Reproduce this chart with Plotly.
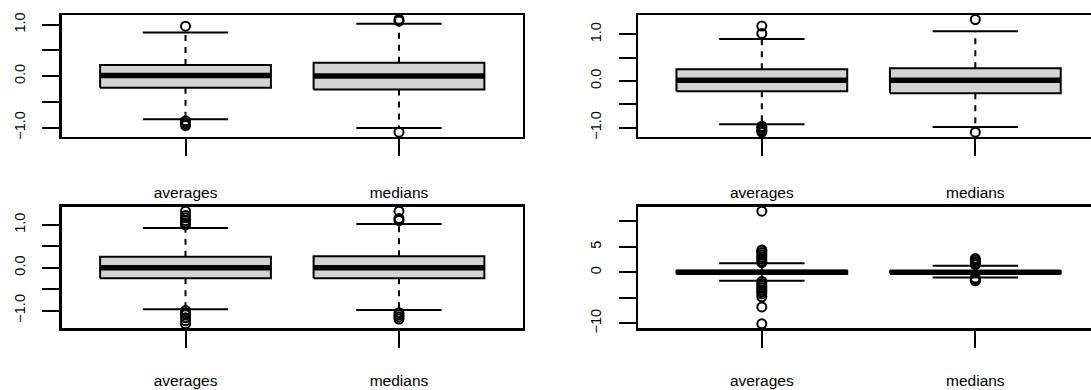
import plotly.graph_objects as go

# ---------------- data ----------------
categories = ["averages", "medians"]

# panel 1 (top-left)
p1_q1 = [-0.228, -0.26]
p1_median = [0.013, 0.0]
p1_q3 = [0.215, 0.26]
p1_lower = [-0.84, -1.01]
p1_upper = [0.847, 1.016]
p1_out_avg = [0.97, -0.87, -0.90, -0.93, -0.96]
p1_out_med = [1.07, 1.10, -1.09]

# panel 2 (top-right)
p2_q1 = [-0.223, -0.266]
p2_median = [0.014, 0.014]
p2_q3 = [0.252, 0.273]
p2_lower = [-0.93, -0.99]
p2_upper = [0.90, 1.07]
p2_out_avg = [1.18, 1.02, -0.97, -1.00, -1.04, -1.07, -1.10]
p2_out_med = [1.32, -1.10]

# panel 3 (bottom-left)
p3_q1 = [-0.248, -0.248]
p3_median = [0.0, 0.0]
p3_q3 = [0.256, 0.27]
p3_lower = [-0.97, -0.99]
p3_upper = [0.93, 1.02]
p3_out_avg = [1.0, 1.05, 1.10, 1.17, 1.22, 1.32, -1.0, -1.05, -1.10, -1.17, -1.24, -1.31]
p3_out_med = [1.10, 1.15, 1.32, -1.05, -1.10, -1.15, -1.20]

# panel 4 (bottom-right)
p4_q1 = [-0.3, -0.2]
p4_median = [0.0, 0.02]
p4_q3 = [0.3, 0.2]
p4_lower = [-1.65, -1.0]
p4_upper = [1.8, 1.3]
p4_out_avg = [12.0, 1.9, 2.2, 2.6, 3.0, 3.4, 3.8, 4.2, 4.4,
              -1.8, -2.2, -2.6, -3.0, -3.4, -3.8, -4.2, -4.8, -6.8, -10.1]
p4_out_med = [1.5, 1.8, 2.1, 2.4, 2.7, -1.1, -1.3, -1.5, -1.65]

# tick values / labels
ytick_small = [-1.0, -0.5, 0.0, 0.5, 1.0]
ytext_small = ["\u22121.0", "", "0.0", "", "1.0"]
ytick_big = [-10, -5, 0, 5, 10]
ytext_big = ["\u221210", "", "0", "5", ""]

panels = [
    dict(q1=p1_q1, med=p1_median, q3=p1_q3, lo=p1_lower, hi=p1_upper,
         out=[p1_out_avg, p1_out_med], tv=ytick_small, tt=ytext_small),
    dict(q1=p2_q1, med=p2_median, q3=p2_q3, lo=p2_lower, hi=p2_upper,
         out=[p2_out_avg, p2_out_med], tv=ytick_small, tt=ytext_small),
    dict(q1=p3_q1, med=p3_median, q3=p3_q3, lo=p3_lower, hi=p3_upper,
         out=[p3_out_avg, p3_out_med], tv=ytick_small, tt=ytext_small),
    dict(q1=p4_q1, med=p4_median, q3=p4_q3, lo=p4_lower, hi=p4_upper,
         out=[p4_out_avg, p4_out_med], tv=ytick_big, tt=ytext_big),
]

# ---------------- layout geometry ----------------
W, H = 1091, 390
PX_PER_UNIT = 213.5
left_x = (61.7, 522.8)
right_x0 = 638.0
top_y = (15.0, 136.7)
bot_y = (206.7, 328.3)

BOXW = 0.4   # half box width (R boxwex 0.8)
CAPW = 0.2   # half staple width
FILL = "#D3D3D3"
FONT = "Liberation Sans"

fig = go.Figure()

for i, p in enumerate(panels):
    n = i + 1
    xa = "x" if n == 1 else f"x{n}"
    ya = "y" if n == 1 else f"y{n}"
    for j, cat in enumerate(categories):
        xc = j + 1
        # dashed whiskers
        fig.add_trace(go.Scatter(
            x=[xc, xc, None, xc, xc],
            y=[p["q3"][j], p["hi"][j], None, p["q1"][j], p["lo"][j]],
            mode="lines", line=dict(color="black", width=2, dash="6px,6px"),
            xaxis=xa, yaxis=ya, showlegend=False, hoverinfo="skip"))
        # staples
        fig.add_trace(go.Scatter(
            x=[xc - CAPW, xc + CAPW, None, xc - CAPW, xc + CAPW],
            y=[p["hi"][j], p["hi"][j], None, p["lo"][j], p["lo"][j]],
            mode="lines", line=dict(color="black", width=2),
            xaxis=xa, yaxis=ya, showlegend=False, hoverinfo="skip"))
        # box
        fig.add_trace(go.Scatter(
            x=[xc - BOXW, xc + BOXW, xc + BOXW, xc - BOXW, xc - BOXW],
            y=[p["q1"][j], p["q1"][j], p["q3"][j], p["q3"][j], p["q1"][j]],
            mode="lines", fill="toself", fillcolor=FILL,
            line=dict(color="black", width=2),
            xaxis=xa, yaxis=ya, showlegend=False, hoverinfo="skip"))
        # median
        fig.add_trace(go.Scatter(
            x=[xc - BOXW, xc + BOXW], y=[p["med"][j], p["med"][j]],
            mode="lines", line=dict(color="black", width=5.5),
            xaxis=xa, yaxis=ya, showlegend=False, hoverinfo="skip"))
        # outliers
        fig.add_trace(go.Scatter(
            x=[xc] * len(p["out"][j]), y=p["out"][j],
            mode="markers",
            marker=dict(symbol="circle-open", size=9, color="black",
                        line=dict(width=2, color="black")),
            xaxis=xa, yaxis=ya, showlegend=False, hoverinfo="skip",
            cliponaxis=False))

layout = dict(
    width=W, height=H, template="none",
    margin=dict(l=0, r=0, t=0, b=0, pad=0),
    paper_bgcolor="white", plot_bgcolor="white",
    font=dict(family=FONT, color="black"),
    showlegend=False,
)

for i, p in enumerate(panels):
    n = i + 1
    col = i % 2
    row = i // 2
    xs = "xaxis" if n == 1 else f"xaxis{n}"
    ys = "yaxis" if n == 1 else f"yaxis{n}"
    ya_anchor = "y" if n == 1 else f"y{n}"
    xa_anchor = "x" if n == 1 else f"x{n}"

    allv = p["q1"] + p["q3"] + p["lo"] + p["hi"] + p["out"][0] + p["out"][1]
    lo, hi = min(allv), max(allv)
    pad = 0.04 * (hi - lo)

    if col == 0:
        xdom = [left_x[0] / W, left_x[1] / W]
        xrng = [0.42, 2.58]
        ymirror = True
    else:
        xdom = [right_x0 / W, 1.0]
        xrng = [0.42, 0.42 + (W - right_x0) / PX_PER_UNIT]
        ymirror = False
    yb = top_y if row == 0 else bot_y
    ydom = [1 - yb[1] / H, 1 - yb[0] / H]

    layout[xs] = dict(
        domain=xdom, range=xrng, anchor=ya_anchor,
        tickmode="array", tickvals=[1, 2], ticktext=categories,
        ticks="outside", ticklen=17, tickwidth=2, tickcolor="black",
        showline=True, linewidth=2.3, linecolor="black", mirror=True,
        showgrid=False, zeroline=False, automargin=False,
        tickfont=dict(family=FONT, size=15.5, color="black"),
        ticklabelstandoff=23 if row == 0 else 20,
        fixedrange=True,
    )
    layout[ys] = dict(
        domain=ydom, range=[lo - pad, hi + pad], anchor=xa_anchor,
        tickmode="array", tickvals=p["tv"], ticktext=p["tt"],
        ticks="outside", ticklen=17, tickwidth=2, tickcolor="black",
        showline=True, linewidth=2.3, linecolor="black", mirror=ymirror,
        showgrid=False, zeroline=False, automargin=False,
        tickangle=-90,
        tickfont=dict(family=FONT, size=14.5, color="black"),
        ticklabelstandoff=12,
        fixedrange=True,
    )

fig.update_layout(**layout)
fig.write_html("out.html",
               config={"displayModeBar": False, "staticPlot": True},
               post_script="document.body.style.margin='0';"
                           "document.body.style.overflow='hidden';")
